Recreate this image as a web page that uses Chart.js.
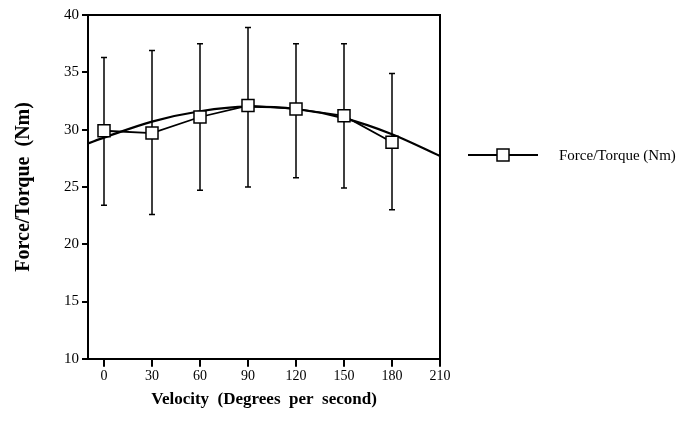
<!DOCTYPE html>
<html>
<head>
<meta charset="utf-8">
<script src="https://cdn.jsdelivr.net/npm/chart.js@4.4.1/dist/chart.umd.min.js"></script>
<style>
  html, body { margin: 0; padding: 0; background: #fff; }
  #wrap { width: 682px; height: 431px; position: relative; }
</style>
</head>
<body>
<div id="wrap"><canvas id="forceChart"></canvas></div>
<script>
// velocities (deg/s) and mean force/torque with the SD bars
var velocities = [0, 30, 60, 90, 120, 150, 180];
var meanTorque = [29.9, 29.7, 31.1, 32.1, 31.8, 31.2, 28.9];
var upperBar = [36.3, 36.9, 37.5, 38.9, 37.5, 37.5, 34.9];
var lowerBar = [23.4, 22.6, 24.7, 25.0, 25.8, 24.9, 23.0];

// fitted curve
var fitX = [-10, 0, 30, 60, 90, 120, 150, 180, 210];
var fitY = [28.8, 29.3, 30.7, 31.6, 32.0, 31.8, 31.0, 29.6, 27.7];

var xTicks = [0, 30, 60, 90, 120, 150, 180, 210];
var seriesLabel = 'Force/Torque (Nm)';

var serif = '"Liberation Serif", "Times New Roman", serif';

var errorBars = {
    id: 'errorBars',
    beforeDatasetsDraw: function (chart) {
        var ctx = chart.ctx;
        var xs = chart.scales.x, ys = chart.scales.y;
        ctx.save();
        ctx.strokeStyle = '#000';
        ctx.lineWidth = 1.5;
        for (let i = 0; i < velocities.length; i++) {
            let px = xs.getPixelForValue(velocities[i]);
            let top = ys.getPixelForValue(upperBar[i]);
            let bot = ys.getPixelForValue(lowerBar[i]);
            ctx.beginPath();
            ctx.moveTo(px, top); ctx.lineTo(px, bot);
            ctx.moveTo(px - 3, top); ctx.lineTo(px + 3, top);
            ctx.moveTo(px - 3, bot); ctx.lineTo(px + 3, bot);
            ctx.stroke();
        }
        ctx.restore();
    }
};

var frameAndLegend = {
    id: 'frameAndLegend',
    afterDraw: function (chart) {
        var ctx = chart.ctx;
        var a = chart.chartArea;
        ctx.save();
        ctx.strokeStyle = '#000';
        ctx.lineWidth = 2;
        ctx.beginPath();
        ctx.moveTo(a.left, a.top); ctx.lineTo(a.right, a.top); ctx.lineTo(a.right, a.bottom);
        ctx.stroke();

        // legend
        var ly = 155;
        ctx.lineWidth = 2;
        ctx.beginPath();
        ctx.moveTo(468, ly); ctx.lineTo(538, ly);
        ctx.stroke();
        ctx.fillStyle = '#fff';
        ctx.lineWidth = 1.5;
        ctx.fillRect(497, ly - 6, 12, 12);
        ctx.strokeRect(497, ly - 6, 12, 12);
        ctx.fillStyle = '#000';
        ctx.font = '15px ' + serif;
        ctx.textBaseline = 'middle';
        ctx.fillText(seriesLabel, 559, ly + 1);
        ctx.restore();
    }
};

var ctxEl = document.getElementById('forceChart').getContext('2d');
var forceChart = new Chart(ctxEl, {
    type: 'line',
    data: {
        datasets: [{
            label: seriesLabel,
            data: velocities.map(function (v, i) { return { x: v, y: meanTorque[i] }; }),
            borderColor: '#000',
            borderWidth: 1.8,
            tension: 0,
            pointStyle: 'rect',
            pointRadius: 8.5,
            pointBackgroundColor: '#fff',
            pointBorderColor: '#000',
            pointBorderWidth: 1.5,
            order: 0
        }, {
            label: 'fit',
            data: fitX.map(function (v, i) { return { x: v, y: fitY[i] }; }),
            borderColor: '#000',
            borderWidth: 2.2,
            cubicInterpolationMode: 'monotone',
            pointRadius: 0,
            order: 1
        }]
    },
    options: {
        responsive: true,
        maintainAspectRatio: false,
        animation: false,
        layout: {
            padding: { left: 12, right: 242, top: 15, bottom: 21 }
        },
        plugins: {
            legend: { display: false },
            tooltip: { enabled: false }
        },
        scales: {
            x: {
                type: 'linear',
                min: -10,
                max: 210,
                afterBuildTicks: function (axis) {
                    axis.ticks = xTicks.map(function (v) { return { value: v }; });
                },
                grid: { drawOnChartArea: false, drawTicks: true, tickLength: 8, color: '#000', lineWidth: 2 },
                border: { color: '#000', width: 2 },
                ticks: { color: '#000', font: { family: serif, size: 14 }, padding: 1, maxRotation: 0 },
                title: {
                    display: true,
                    text: 'Velocity  (Degrees  per  second)',
                    color: '#000',
                    font: { family: serif, size: 17, weight: 'bold' },
                    padding: { top: 4, bottom: 0 }
                }
            },
            y: {
                min: 10,
                max: 40,
                ticks: { stepSize: 5, color: '#000', font: { family: serif, size: 15 }, padding: 3 },
                grid: { drawOnChartArea: false, drawTicks: true, tickLength: 6, color: '#000', lineWidth: 2 },
                border: { color: '#000', width: 2 },
                title: {
                    display: true,
                    text: 'Force/Torque  (Nm)',
                    color: '#000',
                    font: { family: serif, size: 20, weight: 'bold' },
                    padding: { top: 0, bottom: 25 }
                }
            }
        }
    },
    plugins: [errorBars, frameAndLegend]
});
</script>
</body>
</html>
